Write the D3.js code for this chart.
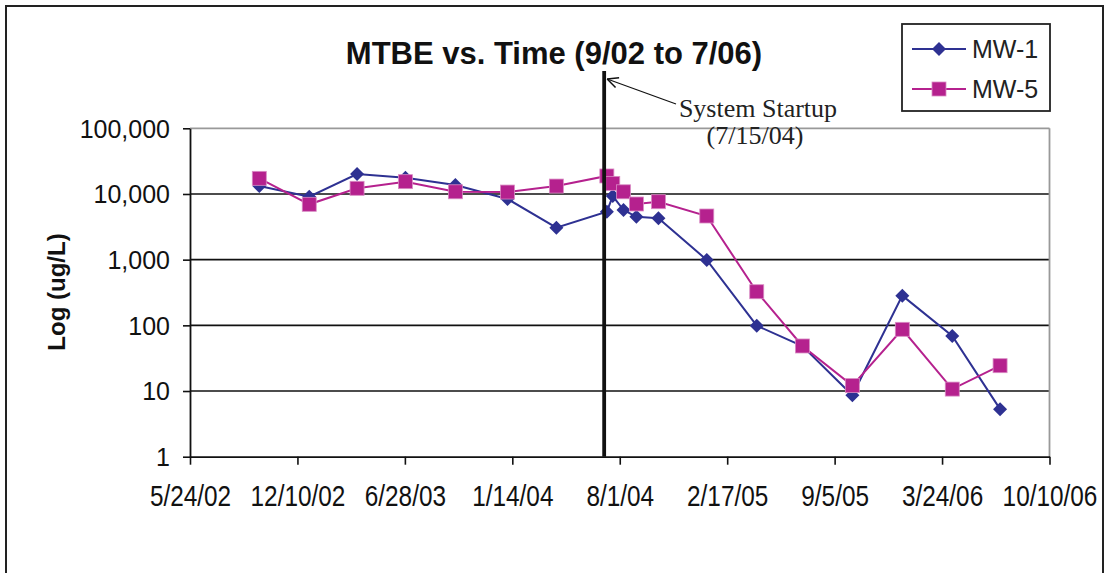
<!DOCTYPE html>
<html><head><meta charset="utf-8">
<script src="https://cdn.jsdelivr.net/npm/d3@7"></script>
<style>body{margin:0;background:#fff}svg{display:block}</style>
</head><body>
<svg id="c" width="1106" height="573"></svg>
<script>
const sampleDates = ["2002-09-30","2003-01-01","2003-03-31","2003-06-29","2003-09-30","2004-01-05","2004-04-05","2004-07-08","2004-07-19","2004-08-08","2004-09-01","2004-10-12","2005-01-10","2005-04-13","2005-07-07","2005-10-08","2006-01-09","2006-04-12","2006-07-10"];
const mw1 = [13200, 9100, 20100, 17700, 13700, 8400, 3070, 5370, 9300, 5700, 4500, 4260, 990, 99, 48.5, 8.6, 283, 69, 5.3];
const mw5 = [17300, 6960, 12200, 15400, 10800, 10700, 13200, 18800, 14500, 10800, 7040, 7630, 4620, 325, 48.5, 12.1, 87, 10.7, 24.3];
const seriesNames = ["MW-1", "MW-5"];
const yTicks = [1, 10, 100, 1000, 10000, 100000];
const xStart = "2002-05-24", xEnd = "2006-10-10", xStepDays = 200;
const startupLineDate = "2004-07-03";
const titleText = "MTBE vs. Time (9/02 to 7/06)";
const yTitle = "Log (ug/L)";
const noteLines = ["System Startup", "(7/15/04)"];

const parse = d3.utcParse("%Y-%m-%d");
const svg = d3.select("#c");
const L = 190, R = 1049.5, T = 128.3, B = 456.7;
const x = d3.scaleUtc().domain([parse(xStart), parse(xEnd)]).range([L, R]);
const y = d3.scaleLog().domain([1, 100000]).range([B, T]);
const colors = ["#2e3192", "#b5218e"];

// outer border
svg.append("rect").attr("x", 6).attr("y", 6).attr("width", 1097).attr("height", 580)
  .attr("fill", "#fff").attr("stroke", "#222").attr("stroke-width", 2);

// gridlines
svg.append("g").selectAll("line").data(yTicks.filter(v => v > 1 && v < 100000)).join("line")
  .attr("x1", L).attr("x2", R).attr("y1", d => y(d)).attr("y2", d => y(d))
  .attr("stroke", "#111").attr("stroke-width", 1.6);
// plot border top/right gray
svg.append("line").attr("x1", L).attr("x2", R).attr("y1", T).attr("y2", T).attr("stroke", "#999").attr("stroke-width", 1.8);
svg.append("line").attr("x1", R).attr("x2", R).attr("y1", T).attr("y2", B).attr("stroke", "#999").attr("stroke-width", 1.8);

// x axis
const xTickVals = d3.utcDay.range(parse(xStart), d3.utcDay.offset(parse(xEnd), 1), 1).filter((d, i) => i % xStepDays === 0);
const fmt = d => (d.getUTCMonth() + 1) + "/" + d.getUTCDate() + "/" + String(d.getUTCFullYear()).slice(2);
const xAxis = svg.append("g").attr("transform", `translate(0,${B})`)
  .call(d3.axisBottom(x).tickValues(xTickVals).tickFormat(fmt).tickSize(8).tickSizeOuter(0));
xAxis.select(".domain").attr("stroke", "#111").attr("stroke-width", 1.8);
xAxis.selectAll(".tick line").attr("stroke", "#111").attr("stroke-width", 1.6);
xAxis.selectAll(".tick text").attr("font-family", "Liberation Sans, Arial, sans-serif").attr("font-size", 29)
  .attr("fill", "#111").attr("y", 0).attr("dy", 0)
  .attr("transform", "translate(0,49) scale(0.84,1)");

// y axis
const yAxis = svg.append("g").attr("transform", `translate(${L},0)`)
  .call(d3.axisLeft(y).tickValues(yTicks).tickFormat(d3.format(",")).tickSize(7).tickSizeOuter(0));
yAxis.select(".domain").attr("stroke", "#111").attr("stroke-width", 1.8);
yAxis.selectAll(".tick line").attr("stroke", "#111").attr("stroke-width", 1.6);
yAxis.selectAll(".tick text").attr("font-family", "Liberation Sans, Arial, sans-serif").attr("font-size", 25)
  .attr("fill", "#111").attr("x", -20).attr("dy", "0.35em");

// series
const series = [mw1, mw5].map((vals, k) => vals.map((v, i) => ({d: parse(sampleDates[i]), v})));
const line = d3.line().x(p => x(p.d)).y(p => y(p.v));
series.forEach((s, k) => {
  svg.append("path").datum(s).attr("d", line).attr("fill", "none").attr("stroke", colors[k]).attr("stroke-width", 2);
});
function drawMarker(g, k, cx, cy) {
  if (k === 0) {
    g.append("path").attr("d", d3.symbol().type(d3.symbolSquare).size(98)())
      .attr("transform", `translate(${cx},${cy}) rotate(45)`).attr("fill", colors[0]);
  } else {
    g.append("rect").attr("x", cx - 7).attr("y", cy - 7).attr("width", 14).attr("height", 14)
      .attr("fill", colors[1]).attr("stroke", "#d98cc4").attr("stroke-width", 0.8);
  }
}
const mg = svg.append("g");
series.forEach((s, k) => s.forEach(p => drawMarker(mg, k, x(p.d), y(p.v))));

// startup line
const sx = x(parse(startupLineDate));
svg.append("line").attr("x1", sx).attr("x2", sx).attr("y1", 71).attr("y2", B).attr("stroke", "#111").attr("stroke-width", 3.8);
// arrow
const tip = [sx + 3, 79], tail = [676, 104];
svg.append("line").attr("x1", tail[0]).attr("y1", tail[1]).attr("x2", tip[0]).attr("y2", tip[1]).attr("stroke", "#111").attr("stroke-width", 1.2);
const ang = Math.atan2(tail[1] - tip[1], tail[0] - tip[0]);
[-0.45, 0.45].forEach(a => {
  svg.append("line").attr("x1", tip[0]).attr("y1", tip[1])
    .attr("x2", tip[0] + 12 * Math.cos(ang + a)).attr("y2", tip[1] + 12 * Math.sin(ang + a))
    .attr("stroke", "#111").attr("stroke-width", 1.5);
});
svg.append("text").attr("x", 758).attr("y", 117).attr("text-anchor", "middle")
  .attr("font-family", "Liberation Serif, Times New Roman, serif").attr("font-size", 26).attr("fill", "#222").text(noteLines[0]);
svg.append("text").attr("x", 755).attr("y", 144).attr("text-anchor", "middle")
  .attr("font-family", "Liberation Serif, Times New Roman, serif").attr("font-size", 26).attr("fill", "#222").text(noteLines[1]);

// title
svg.append("text").attr("x", 554).attr("y", 64).attr("text-anchor", "middle")
  .attr("font-family", "Liberation Sans, Arial, sans-serif").attr("font-weight", "bold").attr("font-size", 31)
  .attr("fill", "#111").text(titleText);

// y title
svg.append("text").attr("transform", "translate(65,292) rotate(-90)").attr("text-anchor", "middle")
  .attr("font-family", "Liberation Sans, Arial, sans-serif").attr("font-weight", "bold").attr("font-size", 24)
  .attr("fill", "#111").text(yTitle);

// legend
const lg = svg.append("g");
lg.append("rect").attr("x", 902).attr("y", 24).attr("width", 148).attr("height", 87)
  .attr("fill", "#fff").attr("stroke", "#222").attr("stroke-width", 1.8);
seriesNames.forEach((n, k) => {
  const ly = 49 + k * 40;
  lg.append("line").attr("x1", 912).attr("x2", 966).attr("y1", ly).attr("y2", ly).attr("stroke", colors[k]).attr("stroke-width", 2);
  drawMarker(lg, k, 939, ly);
  lg.append("text").attr("x", 972).attr("y", ly).attr("dy", "0.35em")
    .attr("font-family", "Liberation Sans, Arial, sans-serif").attr("font-size", 25).attr("fill", "#222").text(n);
});
</script>
</body></html>
